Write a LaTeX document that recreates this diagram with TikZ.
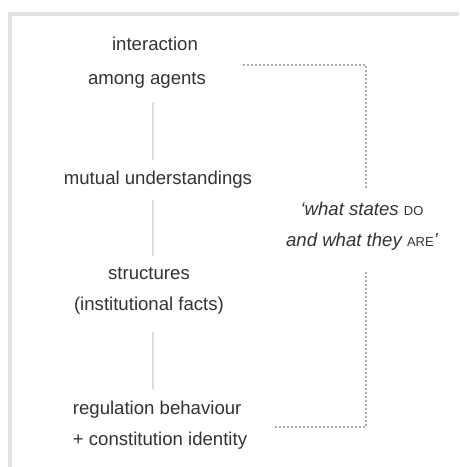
\documentclass[tikz,border=0pt]{standalone}
\usepackage{fontspec}
\setmainfont{Liberation Sans}
\definecolor{txt}{HTML}{333333}
\definecolor{frame}{HTML}{E2E2E2}
\definecolor{vline}{HTML}{DDDDDD}
\definecolor{dotc}{HTML}{ABABAB}
\newcommand{\fsc}[1]{{\fontsize{13}{13}\selectfont\upshape #1}}
\begin{document}
\begin{tikzpicture}[x=1pt,y=-1pt,
  lbl/.style={text=txt,font=\fontsize{18.6}{31}\selectfont,inner sep=0pt,anchor=center},
  conn/.style={draw=vline,line width=2.5pt},
  dotline/.style={draw=dotc,line width=2.4pt,dash pattern=on 2pt off 2pt}]
\useasboundingbox (0,0) rectangle (459,467);
\fill[white] (0,0) rectangle (459,467);
% frame
\fill[frame] (8,12) rectangle (459,16);
\fill[frame] (8,12) rectangle (12,467);
% labels
\node[lbl] (a) at (155,44) {interaction};
\node[lbl] (a2) at (147,80) {among agents};
\node[lbl] (b) at (158,180) {mutual understandings};
\node[lbl,align=center] (c) at (149,291) {structures\\(institutional facts)};
\node[lbl,align=left] (d) at (160,425) {regulation behaviour\\+ constitution identity};
\node[lbl,align=center,font=\fontsize{18.6}{31}\selectfont\itshape] (q) at (362,226)
  {‘what states \fsc{DO}\\and what they \fsc{ARE}’};
% connectors
\coordinate (a1) at (153,102); \coordinate (b1) at (153,160);
\coordinate (b2) at (153,200); \coordinate (c1) at (153,256);
\coordinate (c2) at (153,332); \coordinate (d1) at (153,389);
\draw[conn] (a1) -- (b1);
\draw[conn] (b2) -- (c1);
\draw[conn] (c2) -- (d1);
% dotted bracket
\coordinate (t0) at (243,65); \coordinate (t1) at (366,65); \coordinate (t2) at (366,188);
\coordinate (u0) at (366,272); \coordinate (u1) at (366,427); \coordinate (u2) at (275,427);
\draw[dotline] (t0) -- (t1) -- (t2);
\draw[dotline] (u0) -- (u1) -- (u2);
\end{tikzpicture}
\end{document}
